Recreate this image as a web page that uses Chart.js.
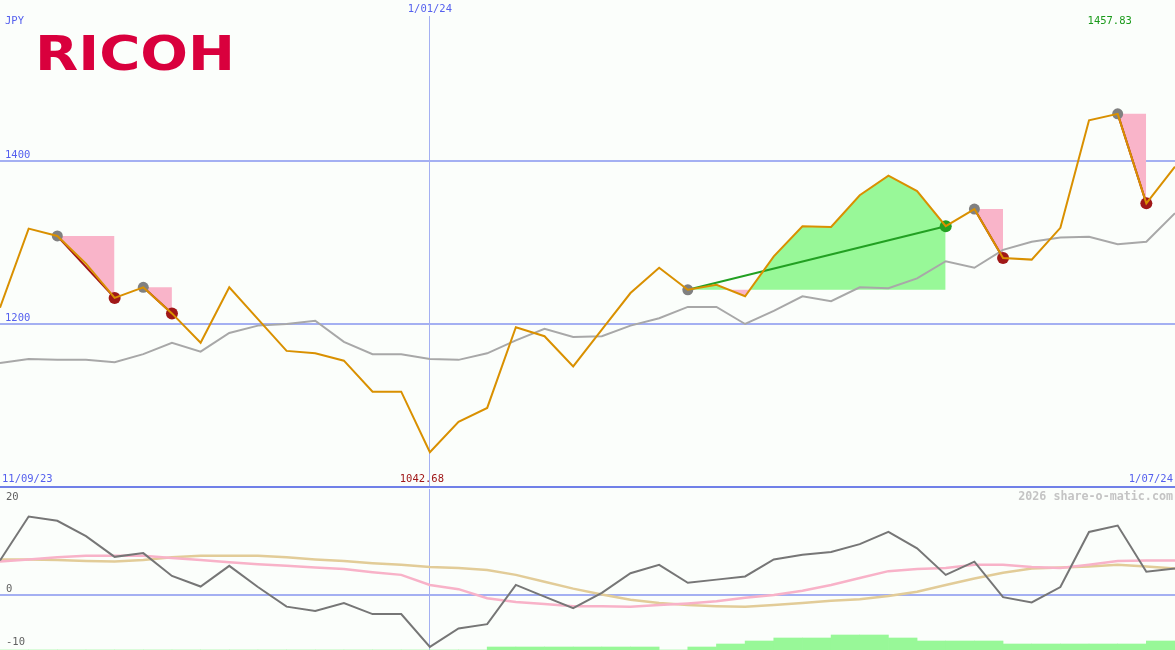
<!DOCTYPE html>
<html>
<head>
<meta charset="utf-8">
<script src="https://cdn.jsdelivr.net/npm/chart.js@4.4.1/dist/chart.umd.min.js"></script>
<style>
  body { margin: 0; background: #fbfefb; }
  #wrap { position: relative; width: 1175px; height: 650px; }
  canvas { position: absolute; left: 0; }
  #top { top: 0; }
  #bottom { top: 489px; }
</style>
</head>
<body>
<div id="wrap">
  <canvas id="top" width="1175" height="489"></canvas>
  <canvas id="bottom" width="1175" height="161"></canvas>
</div>
<script>
// weekly closes (JPY), index 0 = 11/09/23
const price = [1220, 1317, 1308, 1274, 1232, 1245, 1213, 1177, 1245, 1206, 1167, 1164, 1155, 1117, 1117,
  1042.68, 1080, 1097, 1196, 1185, 1148, 1193, 1238, 1269, 1242, 1248, 1234, 1283, 1320, 1319, 1358,
  1382, 1363, 1320, 1341, 1281, 1279, 1318, 1450, 1457.83, 1348, 1393];
const average = [1152, 1157, 1156, 1156, 1153, 1163, 1177, 1166, 1189, 1198, 1200, 1204, 1178, 1163, 1163,
  1157, 1156, 1164, 1180, 1194, 1184, 1185, 1198, 1207, 1221, 1221, 1200, 1216, 1234, 1228, 1245,
  1244, 1256, 1277, 1269, 1291, 1301, 1306, 1307, 1298, 1301, 1336];

// signals : start index, end index, kind
const tradeStart = [2, 5, 24, 34, 39];
const tradeEnd = [4, 6, 33, 35, 40];
const tradeKind = ['sell', 'sell', 'buy', 'sell', 'sell'];

// oscillator panel
const osc = [6.5, 14.8, 14.0, 11.1, 7.2, 7.9, 3.6, 1.6, 5.5, 1.5, -2.2, -3.0, -1.5, -3.6, -3.6, -9.8, -6.3,
  -5.5, 1.9, -0.3, -2.5, 0.4, 4.1, 5.7, 2.3, 2.9, 3.5, 6.7, 7.6, 8.1, 9.6, 11.9, 8.8, 3.8, 6.3, -0.4,
  -1.4, 1.5, 11.9, 13.1, 4.4, 5.0];
const oscPink = [6.3, 6.7, 7.1, 7.4, 7.4, 7.4, 7.0, 6.6, 6.2, 5.8, 5.5, 5.2, 4.9, 4.3, 3.8, 1.9, 1.1, -0.6,
  -1.3, -1.7, -2.1, -2.1, -2.2, -1.9, -1.6, -1.2, -0.5, 0.0, 0.8, 1.9, 3.2, 4.5, 4.9, 5.1, 5.7, 5.7,
  5.3, 5.1, 5.7, 6.4, 6.5, 6.5];
const oscTan = [6.7, 6.7, 6.6, 6.4, 6.3, 6.6, 7.1, 7.4, 7.4, 7.4, 7.1, 6.7, 6.4, 6.0, 5.7, 5.3, 5.1, 4.7, 3.8,
  2.5, 1.2, 0.1, -0.9, -1.5, -1.9, -2.1, -2.2, -1.9, -1.5, -1.1, -0.8, -0.2, 0.6, 1.9, 3.1, 4.2, 5.0,
  5.2, 5.4, 5.7, 5.4, 5.0];
// trend bars, one per week interval (i -> i+1)
const trendBars = [0, 0, 0, 0, 0, 0, 0, 0, 0, 0, 0, 0, 0, 0, 0, 0, 0, 1, 1, 1, 1, 1, 1, 0, 1, 2, 3, 4, 4,
  5, 5, 4, 3, 3, 3, 2, 2, 2, 2, 2, 3];

const dateLabels = ['11/09/23', '1/01/24', '1/07/24'];
const markIndex = 15;
const priceTicks = [1200, 1400];
const oscTicks = [20, 0, -10];

const blue = '#5560ee';
const gridBlue = '#a4b0f2';
const pink = '#f9b4c9';
const green = '#98f898';
const monoFont = '10.5px "DejaVu Sans Mono"';

const pts = arr => arr.map((v, i) => ({x: i, y: v}));

// ---------- top panel ----------
const topSets = [
  {data: pts(price), borderColor: '#d99000', borderWidth: 2, pointRadius: 0, order: 1},
  {data: pts(average), borderColor: '#a8a8a8', borderWidth: 2, pointRadius: 0, order: 5}
];

tradeStart.forEach((s, k) => {
  const e = tradeEnd[k];
  const seg = [];
  const level = [];
  for (let i = s; i <= e; i++) {
    seg.push({x: i, y: price[i]});
    level.push({x: i, y: price[s]});
  }
  const segIdx = topSets.length;
  topSets.push({data: seg, borderWidth: 0, pointRadius: 0, fill: false, order: 10});
  topSets.push({data: level, borderWidth: 0, pointRadius: 0, order: 10,
    fill: {target: segIdx, above: pink, below: green}});
  topSets.push({data: [{x: s, y: price[s]}, {x: e, y: price[e]}],
    borderColor: tradeKind[k] == 'buy' ? '#22a022' : '#a01414', borderWidth: 2, pointRadius: 0, order: 3});
});

topSets.push({data: tradeStart.map(i => ({x: i, y: price[i]})), showLine: false,
  pointRadius: 5.5, pointBackgroundColor: '#808080', pointBorderWidth: 0, order: 2});
topSets.push({data: tradeEnd.map((i, k) => ({x: i, y: price[i]})), showLine: false,
  pointRadius: 6, pointBorderWidth: 0, order: 2,
  pointBackgroundColor: tradeEnd.map((i, k) => tradeKind[k] == 'buy' ? '#22a022' : '#a01818')});

const topText = {
  id: 'topText',
  afterDraw(chart) {
    const {ctx, scales: {x, y}} = chart;
    const lo = price.indexOf(Math.min(...price));
    const hi = price.indexOf(Math.max(...price));
    ctx.save();
    // logo
    ctx.save();
    ctx.translate(35, 70);
    ctx.scale(1.17, 1);
    ctx.font = 'bold 48px "DejaVu Sans"';
    ctx.fillStyle = '#d9003d';
    ctx.textBaseline = 'alphabetic';
    ctx.fillText('RICOH', 0, 0);
    ctx.restore();

    ctx.font = monoFont;
    ctx.textBaseline = 'middle';
    ctx.fillStyle = blue;
    ctx.textAlign = 'left';
    ctx.fillText('JPY', 5, 21);
    priceTicks.forEach(v => ctx.fillText(String(v), 5, y.getPixelForValue(v) - 6));
    ctx.fillText(dateLabels[0], 2, 479);
    ctx.textAlign = 'right';
    ctx.fillText(dateLabels[2], 1173, 479);
    ctx.textAlign = 'center';
    ctx.fillText(dateLabels[1], x.getPixelForValue(markIndex), 9);
    ctx.fillStyle = '#a01818';
    ctx.fillText(price[lo].toFixed(2), x.getPixelForValue(lo) - 8, 479);
    ctx.fillStyle = '#1a9a1a';
    ctx.fillText(price[hi].toFixed(2), x.getPixelForValue(hi) - 8, 21);
    ctx.restore();
  }
};

new Chart(document.getElementById('top'), {
  type: 'line',
  data: {datasets: topSets},
  options: {
    responsive: false,
    animation: false,
    devicePixelRatio: 1,
    layout: {autoPadding: false, padding: {top: 16, bottom: 2, left: 0, right: 0}},
    plugins: {legend: {display: false}, tooltip: {enabled: false}},
    elements: {line: {tension: 0}},
    scales: {
      x: {
        type: 'linear', min: 0, max: 41, offset: false,
        afterBuildTicks: a => { a.ticks = [{value: markIndex}]; },
        ticks: {display: false},
        grid: {drawTicks: false, color: gridBlue, lineWidth: 1},
        border: {display: false}
      },
      y: {
        min: 1000, max: 1577.9,
        afterBuildTicks: a => { a.ticks = [1000, 1200, 1400].map(v => ({value: v})); },
        ticks: {display: false},
        grid: {drawTicks: false, lineWidth: 2,
          color: c => c.tick && c.tick.value === 1000 ? '#7080e8' : gridBlue},
        border: {display: false}
      }
    }
  },
  plugins: [topText]
});

// ---------- bottom panel ----------
const bottomText = {
  id: 'bottomText',
  afterDraw(chart) {
    const {ctx, scales: {y}} = chart;
    ctx.save();
    ctx.textBaseline = 'middle';
    ctx.font = monoFont;
    ctx.fillStyle = '#606060';
    ctx.textAlign = 'left';
    oscTicks.forEach(v => {
      const py = y.getPixelForValue(v);
      ctx.fillText(String(v), 6, v === oscTicks[0] ? py + 8 : py - 6);
    });
    ctx.font = 'bold 11.7px "DejaVu Sans Mono"';
    ctx.fillStyle = '#c4c4c4';
    ctx.textAlign = 'right';
    ctx.fillText('2026 share-o-matic.com', 1173, y.getPixelForValue(oscTicks[0]) + 8);
    ctx.restore();
  }
};

new Chart(document.getElementById('bottom'), {
  type: 'line',
  data: {
    datasets: [
      {type: 'bar', data: trendBars.map((v, i) => ({x: i + 0.5, y: v})), yAxisID: 'yh',
        backgroundColor: green, borderWidth: 0, barPercentage: 1, categoryPercentage: 1, order: 10},
      {data: pts(oscTan), borderColor: '#e2cc98', borderWidth: 2.5, pointRadius: 0, order: 4},
      {data: pts(oscPink), borderColor: '#f8b2c8', borderWidth: 2.5, pointRadius: 0, order: 3},
      {data: pts(osc), borderColor: '#767676', borderWidth: 2, pointRadius: 0, order: 1}
    ]
  },
  options: {
    responsive: false,
    animation: false,
    devicePixelRatio: 1,
    layout: {autoPadding: false, padding: 0},
    plugins: {legend: {display: false}, tooltip: {enabled: false}},
    scales: {
      x: {
        type: 'linear', min: 0, max: 41, offset: false,
        afterBuildTicks: a => { a.ticks = [{value: markIndex}]; },
        ticks: {display: false},
        grid: {drawTicks: false, offset: false, color: gridBlue, lineWidth: 1},
        border: {display: false}
      },
      y: {
        min: -10.377, max: 20,
        afterBuildTicks: a => { a.ticks = [{value: 0}]; },
        ticks: {display: false},
        grid: {drawTicks: false, color: gridBlue, lineWidth: 2},
        border: {display: false}
      },
      yh: {display: false, min: 0, max: 53.67}
    }
  },
  plugins: [bottomText]
});
</script>
</body>
</html>
